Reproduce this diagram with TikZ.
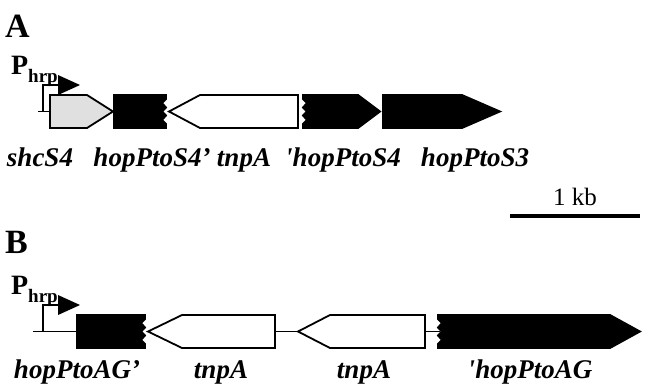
\documentclass[tikz,border=0pt]{standalone}
\usepackage{fontspec}
\setmainfont{Liberation Serif}
\newfontfamily\genefont{Liberation Serif}[Ligatures=TeXOff]
\begin{document}
\begin{tikzpicture}[x=1pt,y=-1pt]
\tikzset{
  gene/.style={draw=black, line width=1.8pt, line join=miter},
  blackgene/.style={gene, fill=black},
  whitegene/.style={gene, fill=white},
  graygene/.style={gene, fill=black!12},
  dna/.style={line width=1.8pt},
  panel/.style={font=\bfseries\fontsize{34}{34}\selectfont, anchor=base west, inner sep=0pt},
  prom/.style={font=\bfseries\fontsize{28}{28}\selectfont, anchor=base west, inner sep=0pt},
  promsub/.style={font=\bfseries\fontsize{19}{19}\selectfont, anchor=base west, inner sep=0pt},
  genelabel/.style={font=\genefont\bfseries\itshape\fontsize{27}{27}\selectfont, anchor=base, inner sep=0pt},
}
\useasboundingbox (0,0) rectangle (647,383);

% ---------------- Panel A ----------------
\node[panel] (A) at (5,37) {A};
\node[prom] (PA) at (11,74) {P};
\node[promsub] (hrpA) at (28,82) {hrp};

% promoter arrow
\coordinate (pA0) at (38,111.5);
\coordinate (pA1) at (50,111.5);
\coordinate (pAtop) at (58,85);
\draw[dna] (pA0) -- (pA1);
\draw[dna] (43,111.5) |- (pAtop);
\fill (58,75) -- (80,85) -- (58,95) -- cycle;

% shcS4
\path[graygene] (50,95) -- (87,95) -- (113,111.5) -- (87,128) -- (50,128) -- cycle;
% hopPtoS4' (truncated, jagged right end)
\path[blackgene] (114,95) -- (166,95) -- ++(0,4) -- ++(-4,4) -- ++(4,4.5) -- ++(-4,4)
  -- ++(4,4) -- ++(-4,4.5) -- ++(4,4) -- (166,128) -- (114,128) -- cycle;
% tnpA (reverse)
\path[whitegene] (169,111.5) -- (200,95) -- (298,95) -- (298,128) -- (200,128) -- cycle;
% 'hopPtoS4 (truncated, jagged left end)
\path[blackgene] (303,95) -- (358,95) -- (380,111.5) -- (358,128) -- (303,128)
  -- ++(0,-4) -- ++(4,-4) -- ++(-4,-4.5) -- ++(4,-4) -- ++(-4,-4) -- ++(4,-4.5) -- ++(-4,-4) -- cycle;
% hopPtoS3
\path[blackgene] (383,95) -- (462,95) -- (500,111.5) -- (462,128) -- (383,128) -- cycle;

\node[genelabel] (lshc) at (40,166) {shcS4};
\node[genelabel] (lhopA1) at (152,166) {hopPtoS4’};
\node[genelabel] (ltnpA) at (244,166) {tnpA};
\node[genelabel] (lhopA2) at (343,166) {'hopPtoS4};
\node[genelabel] (lhopS3) at (475,166) {hopPtoS3};

% scale bar
\coordinate (barL) at (510,216);
\coordinate (barR) at (640,216);
\draw[line width=4pt] (barL) -- (barR);
\node[anchor=base, inner sep=0pt, font=\fontsize{25}{25}\selectfont] (kb) at (575,205) {1 kb};

% ---------------- Panel B ----------------
\node[panel] (B) at (5,253) {B};
\node[prom] (PB) at (11,294) {P};
\node[promsub] (hrpB) at (28,302) {hrp};

\coordinate (pB0) at (33,331.5);
\coordinate (pB1) at (77,331.5);
\coordinate (pBtop) at (58,305);
\draw[dna] (pB0) -- (pB1);
\draw[dna] (43,331.5) |- (pBtop);
\fill (58,295) -- (80,305) -- (58,315) -- cycle;

% linker DNA between genes
\coordinate (l1a) at (275,331.5);
\coordinate (l1b) at (298,331.5);
\coordinate (l2a) at (425,331.5);
\coordinate (l2b) at (440,331.5);
\draw[dna] (l1a) -- (l1b);
\draw[dna] (l2a) -- (l2b);

% hopPtoAG' (jagged right end)
\path[blackgene] (77,315) -- (145,315) -- ++(0,4) -- ++(-4,4) -- ++(4,4.5) -- ++(-4,4)
  -- ++(4,4) -- ++(-4,4.5) -- ++(4,4) -- (145,348) -- (77,348) -- cycle;
% tnpA copies
\path[whitegene] (148,331.5) -- (182,315) -- (275,315) -- (275,348) -- (182,348) -- cycle;
\path[whitegene] (298,331.5) -- (330,315) -- (425,315) -- (425,348) -- (330,348) -- cycle;
% 'hopPtoAG (jagged left end)
\path[blackgene] (438,315) -- (610,315) -- (640,331.5) -- (610,348) -- (438,348)
  -- ++(0,-4) -- ++(4,-4) -- ++(-4,-4.5) -- ++(4,-4) -- ++(-4,-4) -- ++(4,-4.5) -- ++(-4,-4) -- cycle;

\node[genelabel] (lhopB1) at (77,378) {hopPtoAG’};
\node[genelabel] (ltnpB1) at (221,378) {tnpA};
\node[genelabel] (ltnpB2) at (364,378) {tnpA};
\node[genelabel] (lhopB2) at (530,378) {'hopPtoAG};
\end{tikzpicture}
\end{document}
